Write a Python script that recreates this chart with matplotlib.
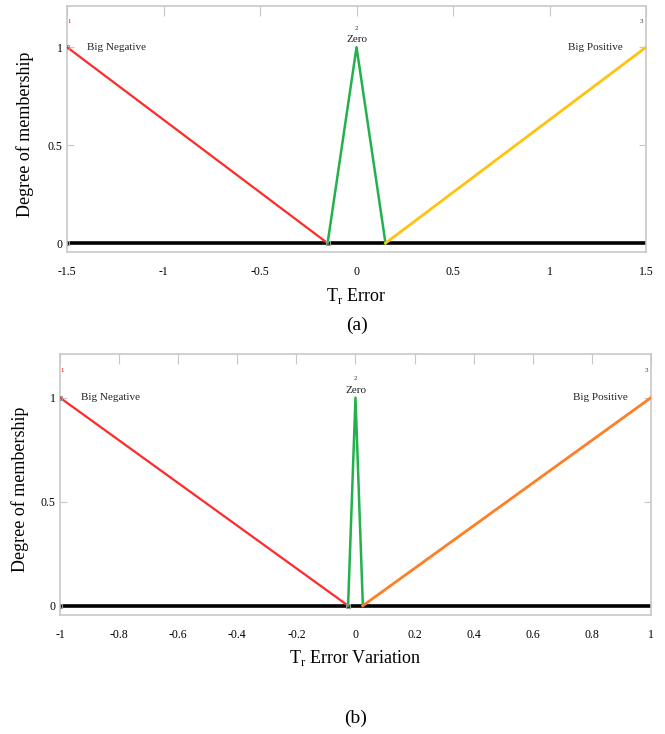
import matplotlib
matplotlib.use("Agg")
import matplotlib.pyplot as plt

# ---- data ----
a_neg_x = [-1.5, -0.15]; a_neg_y = [1, 0]
a_zero_x = [-0.15, 0, 0.15]; a_zero_y = [0, 1, 0]
a_pos_x = [0.15, 1.5]; a_pos_y = [0, 1]
a_xticks = [-1.5, -1, -0.5, 0, 0.5, 1, 1.5]
a_xticklabels = ["-1.5", "-1", "-0.5", "0", "0.5", "1", "1.5"]

b_neg_x = [-1, -0.025]; b_neg_y = [1, 0]
b_zero_x = [-0.025, 0, 0.025]; b_zero_y = [0, 1, 0]
b_pos_x = [0.025, 1]; b_pos_y = [0, 1]
b_xticks = [-1, -0.8, -0.6, -0.4, -0.2, 0, 0.2, 0.4, 0.6, 0.8, 1]
b_xticklabels = ["-1", "-0.8", "-0.6", "-0.4", "-0.2", "0", "0.2", "0.4", "0.6", "0.8", "1"]

yticks = [0, 0.5, 1]
yticklabels = ["0", "0.5", "1"]

plt.rcParams['font.family'] = ['Liberation Serif', 'DejaVu Serif']
plt.rcParams['mathtext.fontset'] = 'custom'
plt.rcParams['mathtext.rm'] = 'Liberation Serif'

fig = plt.figure(figsize=(6.65, 7.34), dpi=100)

def panel(rect, xlim, neg, zero, pos, poscolor, xt, xtl, xlabel, tag, tagy, xlabely, ylabx):
    ax = fig.add_axes(rect)
    ax.set_xlim(*xlim)
    ax.set_ylim(-0.045, 1.21)
    for s in ax.spines.values():
        s.set_color('#c8c8c8')
        s.set_linewidth(1.2)
    ax.axhline(0, color='black', lw=2.6, zorder=2)
    ax.plot(neg[0], neg[1], color='#ff2a2a', lw=1.6, zorder=3)
    ax.plot(zero[0], zero[1], color='#22b14c', lw=1.8, zorder=3)
    ax.plot(pos[0], pos[1], color=poscolor, lw=2.0, zorder=3)
    # small markers
    ax.plot([neg[0][0], neg[0][1]], [neg[1][0], neg[1][1]], ls='none', marker='s', ms=3.5,
            mfc='none', mec='#999999', mew=0.8, zorder=4)
    ax.plot([neg[0][0]], [0], ls='none', marker='s', ms=3.5, mfc='none', mec='#999999', mew=0.8, zorder=4)
    # ticks
    ax.set_xticks(xt)
    ax.set_xticklabels(xtl)
    ax.set_yticks(yticks)
    ax.set_yticklabels(yticklabels)
    ax.tick_params(axis='x', which='both', bottom=False, top=True, direction='in',
                   length=7, color='#c8c8c8', labelsize=8.5, pad=10)
    ax.tick_params(axis='y', which='both', left=True, right=True, direction='in',
                   length=5, color='#c8c8c8', labelsize=8.5, pad=3)
    # labels on membership functions
    x0, x1 = xlim
    w = x1 - x0
    ax.text(neg[0][0] + 0.035 * w, 1.0, "Big Negative", fontsize=8, ha='left', va='center', color='#222222')
    ax.text(0, 1.015, "Zero", fontsize=8, ha='center', va='bottom', color='#222222')
    ax.text(pos[0][1] - 0.04 * w, 1.0, "Big Positive", fontsize=8, ha='right', va='center', color='#222222')
    ax.text(neg[0][0], 1.12, "1", fontsize=5, color='red', ha='left', va='bottom')
    ax.text(0, 1.08, "2", fontsize=5, color='#333333', ha='center', va='bottom')
    ax.text(pos[0][1] - 0.005 * w, 1.12, "3", fontsize=5, color='#333333', ha='right', va='bottom')
    fig.text(0.5 * (rect[0] * 2 + rect[2]) - 0.0, xlabely, xlabel, ha='center', va='center', fontsize=13)
    fig.text(0.5 * (rect[0] * 2 + rect[2]), tagy, tag, ha='center', va='center', fontsize=14)
    fig.text(ylabx, rect[1] + rect[3] * 0.48, "Degree of membership", rotation=90,
             ha='center', va='center', fontsize=13)
    return ax

panel([0.1008, 0.6567, 0.8707, 0.3351], (-1.5, 1.5),
      (a_neg_x, a_neg_y), (a_zero_x, a_zero_y), (a_pos_x, a_pos_y), '#ffc20e',
      a_xticks, a_xticklabels, r"T$_\mathrm{r}$ Error", "(a)",
      1 - 325 / 734, 1 - 296 / 734, 25 / 665)

panel([0.0902, 0.1621, 0.8887, 0.3556], (-1, 1),
      (b_neg_x, b_neg_y), (b_zero_x, b_zero_y), (b_pos_x, b_pos_y), '#ff7f27',
      b_xticks, b_xticklabels, r"T$_\mathrm{r}$ Error Variation", "(b)",
      1 - 718 / 734, 1 - 658 / 734, 20 / 665)

fig.savefig("out.png", dpi=100)
